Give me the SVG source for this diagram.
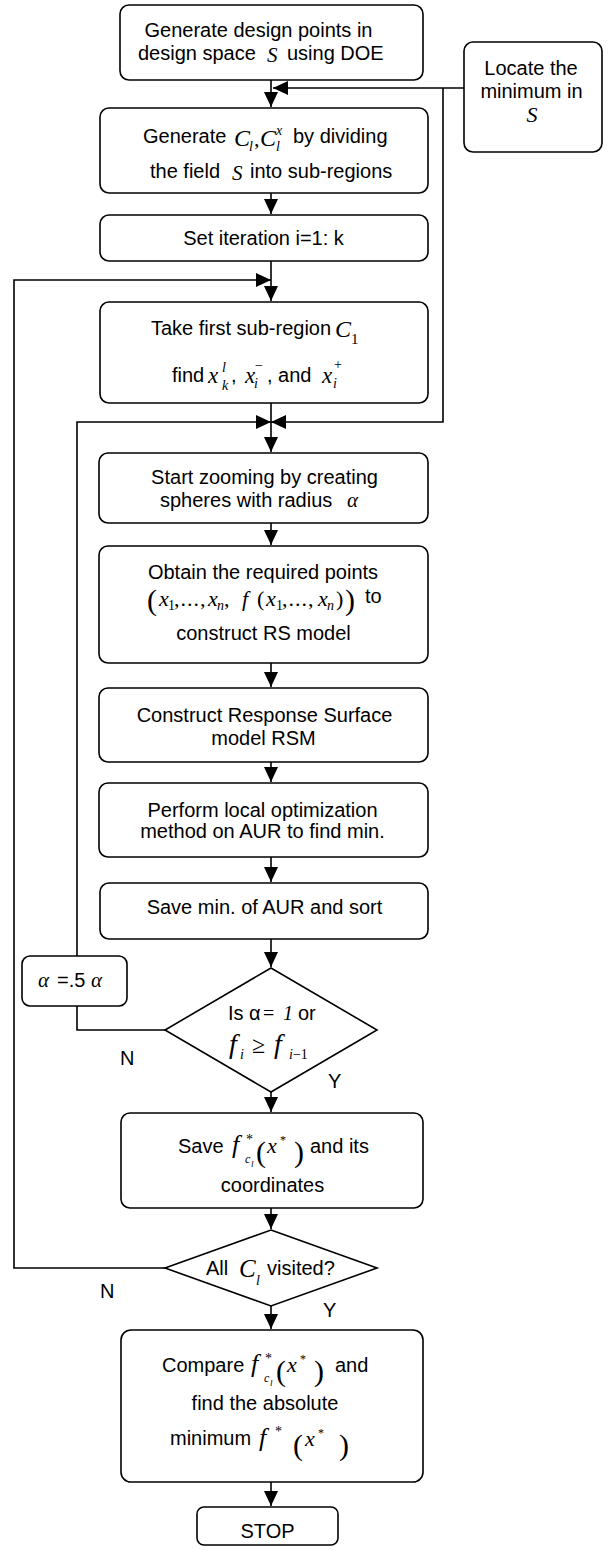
<svg xmlns="http://www.w3.org/2000/svg" width="610" height="1551" viewBox="0 0 610 1551">
<style>
.b{fill:#fff;stroke:#000;stroke-width:1.6}
.ln{fill:none;stroke:#000;stroke-width:1.6}
.t{font-family:"Liberation Sans",Arial,sans-serif;font-size:20px;fill:#000}
.c{text-anchor:middle}
.m{font-family:"Liberation Serif","Times New Roman",serif;font-style:italic;fill:#000}
.r{font-family:"Liberation Serif","Times New Roman",serif;font-style:normal;fill:#000}
</style>
<defs>
<marker id="ah" markerUnits="userSpaceOnUse" markerWidth="16" markerHeight="16" refX="15" refY="7" orient="auto"><path d="M0,0L15,7L0,14z" fill="#000"/></marker>
</defs>
<rect width="610" height="1551" fill="#fff"/>
<g id="connectors">
<line class="ln" x1="271" y1="80" x2="271" y2="107" marker-end="url(#ah)"/>
<polyline class="ln" points="464,88 273,88" marker-end="url(#ah)"/>
<polyline class="ln" points="443,88 443,422 271,422" marker-end="url(#ah)"/>
<line class="ln" x1="271" y1="193" x2="271" y2="214" marker-end="url(#ah)"/>
<line class="ln" x1="271" y1="261" x2="271" y2="301" marker-end="url(#ah)"/>
<polyline class="ln" points="165,1268 14,1268 14,280 271,280" marker-end="url(#ah)"/>
<line class="ln" x1="271" y1="403" x2="271" y2="452" marker-end="url(#ah)"/>
<polyline class="ln" points="165,1030 77,1030 77,1006"/>
<polyline class="ln" points="77,956 77,422 271,422" marker-end="url(#ah)"/>
<line class="ln" x1="271" y1="523" x2="271" y2="545" marker-end="url(#ah)"/>
<line class="ln" x1="271" y1="663" x2="271" y2="687" marker-end="url(#ah)"/>
<line class="ln" x1="271" y1="762" x2="271" y2="782" marker-end="url(#ah)"/>
<line class="ln" x1="271" y1="857" x2="271" y2="882" marker-end="url(#ah)"/>
<line class="ln" x1="271" y1="939" x2="271" y2="967" marker-end="url(#ah)"/>
<line class="ln" x1="271" y1="1092" x2="271" y2="1112" marker-end="url(#ah)"/>
<line class="ln" x1="271" y1="1208" x2="271" y2="1229" marker-end="url(#ah)"/>
<line class="ln" x1="271" y1="1306" x2="271" y2="1329" marker-end="url(#ah)"/>
<line class="ln" x1="271" y1="1482" x2="271" y2="1506" marker-end="url(#ah)"/>
<text class="t" x="120" y="1065">N</text>
<text class="t" x="328" y="1088">Y</text>
<text class="t" x="100" y="1298">N</text>
<text class="t" x="323" y="1317">Y</text>
</g>
<g id="n1">
<rect class="b" x="120" y="5" width="303" height="75" rx="9"/>
<text class="t c" x="258.5" y="37">Generate design points in</text>
<text class="t" x="138" y="60">design space</text>
<text class="m" x="267" y="62" font-size="21">S</text>
<text class="t" x="287" y="60">using DOE</text>
</g>
<g id="n2">
<rect class="b" x="464" y="42" width="138" height="110" rx="9"/>
<text class="t c" x="531" y="75">Locate the</text>
<text class="t c" x="531.5" y="98">minimum in</text>
<text class="m c" x="532" y="122" font-size="22">S</text>
</g>
<g id="n3">
<rect class="b" x="100" y="108" width="328" height="85" rx="9"/>
<text class="t" x="143" y="143">Generate</text>
<text class="m" x="234" y="146" font-size="24">C</text>
<text class="m" x="249" y="151" font-size="14">l</text>
<text class="r" x="254" y="146" font-size="22">,</text>
<text class="m" x="260" y="146" font-size="24">C</text>
<text class="m" x="276" y="135" font-size="14">x</text>
<text class="m" x="276" y="151" font-size="14">l</text>
<text class="t" x="293" y="143">by dividing</text>
<text class="t" x="150" y="178">the field</text>
<text class="m" x="232" y="180" font-size="21">S</text>
<text class="t" x="250" y="178">into sub-regions</text>
</g>
<g id="n4">
<rect class="b" x="100" y="215" width="328" height="46" rx="9"/>
<text class="t c" x="263.5" y="245">Set iteration i=1: k</text>
</g>
<g id="n5">
<rect class="b" x="100" y="302" width="328" height="101" rx="9"/>
<text class="t" x="151" y="335">Take first sub-region</text>
<text class="m" x="335" y="337" font-size="24">C</text>
<text class="r" x="351" y="344" font-size="15">1</text>
<text class="t" x="172" y="382">find</text>
<text class="m" x="208" y="383" font-size="23">x</text>
<text class="m" x="222" y="372" font-size="14">l</text>
<text class="m" x="222" y="390" font-size="14">k</text>
<text class="t" x="231" y="382">,</text>
<text class="m" x="245" y="383" font-size="23">x</text>
<text class="r" x="255" y="370" font-size="14">−</text>
<text class="m" x="254" y="388" font-size="14">i</text>
<text class="t" x="267" y="382">, and</text>
<text class="m" x="322" y="383" font-size="23">x</text>
<text class="r" x="334" y="369" font-size="14">+</text>
<text class="m" x="333" y="388" font-size="14">i</text>
</g>
<g id="n6">
<rect class="b" x="99" y="453" width="329" height="70" rx="9"/>
<text class="t c" x="264.5" y="484">Start zooming by creating</text>
<text class="t" x="160" y="507">spheres with radius</text>
<text class="m" x="347" y="507" font-size="21">α</text>
</g>
<g id="n7">
<rect class="b" x="99" y="546" width="329" height="117" rx="9"/>
<text class="t c" x="263" y="579">Obtain the required points</text>
<text class="r" x="147" y="610" font-size="30">(</text>
<text class="m" x="159" y="606" font-size="22">x</text>
<text class="r" x="168" y="610" font-size="14">1</text>
<text class="r" x="174" y="606" font-size="22" letter-spacing="1">,...,</text>
<text class="m" x="208" y="606" font-size="22">x</text>
<text class="m" x="217" y="610" font-size="14">n</text>
<text class="r" x="224" y="606" font-size="22">,</text>
<text class="m" x="242" y="606" font-size="22">f</text>
<text class="r" x="257" y="606" font-size="22">(</text>
<text class="m" x="266" y="606" font-size="22">x</text>
<text class="r" x="276" y="610" font-size="14">1</text>
<text class="r" x="282" y="606" font-size="22" letter-spacing="1">,...,</text>
<text class="m" x="318" y="606" font-size="22">x</text>
<text class="m" x="327" y="610" font-size="14">n</text>
<text class="r" x="336" y="606" font-size="22">)</text>
<text class="r" x="345" y="610" font-size="30">)</text>
<text class="t" x="365" y="603">to</text>
<text class="t c" x="263.5" y="640">construct RS model</text>
</g>
<g id="n8">
<rect class="b" x="99" y="688" width="329" height="74" rx="9"/>
<text class="t c" x="264.5" y="722">Construct Response Surface</text>
<text class="t c" x="263.5" y="745">model RSM</text>
</g>
<g id="n9">
<rect class="b" x="99" y="783" width="329" height="74" rx="9"/>
<text class="t c" x="262.5" y="817">Perform local optimization</text>
<text class="t c" x="262.5" y="838">method on AUR to find min.</text>
</g>
<g id="n10">
<rect class="b" x="100" y="883" width="328" height="56" rx="9"/>
<text class="t c" x="264.5" y="914">Save min. of AUR and sort</text>
</g>
<g id="n11">
<rect class="b" x="22" y="956" width="105" height="50" rx="8"/>
<text class="m" x="38" y="987" font-size="21">α</text>
<text class="t" x="57" y="987">=.5</text>
<text class="m" x="91" y="987" font-size="21">α</text>
</g>
<g id="d1">
<polygon class="b" points="271,968 377,1030 271,1092 165,1030"/>
<text class="t" x="228" y="1020">Is α</text>
<text class="r" x="263" y="1020" font-size="20">=</text>
<text class="m" x="283" y="1020" font-size="20">1</text>
<text class="t" x="298" y="1020">or</text>
<text class="m" x="229" y="1053" font-size="28">f</text>
<text class="m" x="240" y="1059" font-size="14">i</text>
<text class="r" x="252" y="1053" font-size="24">≥</text>
<text class="m" x="274" y="1053" font-size="28">f</text>
<text class="m" x="289" y="1059" font-size="14">i<tspan class="r">−1</tspan></text>
</g>
<g id="n12">
<rect class="b" x="121" y="1113" width="302" height="95" rx="9"/>
<text class="t" x="178" y="1153">Save</text>
<text class="m" x="232" y="1153" font-size="26">f</text>
<text class="r" x="246" y="1144" font-size="14">*</text>
<text class="m" x="245" y="1163" font-size="12">c</text>
<text class="m" x="251" y="1167" font-size="9">l</text>
<text class="r" x="256" y="1162" font-size="30">(</text>
<text class="m" x="267" y="1153" font-size="22">x</text>
<text class="r" x="280" y="1144" font-size="12">*</text>
<text class="r" x="294" y="1162" font-size="30">)</text>
<text class="t" x="310" y="1153">and its</text>
<text class="t c" x="272.5" y="1192">coordinates</text>
</g>
<g id="d2">
<polygon class="b" points="271,1230 377,1268 271,1306 165,1268"/>
<text class="t" x="206" y="1275">All</text>
<text class="m" x="239" y="1277" font-size="25">C</text>
<text class="m" x="256" y="1285" font-size="14">l</text>
<text class="t" x="267" y="1275">visited?</text>
</g>
<g id="n13">
<rect class="b" x="121" y="1330" width="302" height="152" rx="10"/>
<text class="t" x="162" y="1372">Compare</text>
<text class="m" x="251" y="1372" font-size="26">f</text>
<text class="r" x="265" y="1363" font-size="14">*</text>
<text class="m" x="264" y="1382" font-size="12">c</text>
<text class="m" x="270" y="1386" font-size="9">l</text>
<text class="r" x="276" y="1381" font-size="30">(</text>
<text class="m" x="287" y="1372" font-size="22">x</text>
<text class="r" x="300" y="1363" font-size="12">*</text>
<text class="r" x="314" y="1381" font-size="30">)</text>
<text class="t" x="335" y="1372">and</text>
<text class="t c" x="265" y="1410">find the absolute</text>
<text class="t" x="170" y="1445">minimum</text>
<text class="m" x="259" y="1446" font-size="26">f</text>
<text class="r" x="275" y="1436" font-size="14">*</text>
<text class="r" x="293" y="1455" font-size="30">(</text>
<text class="m" x="305" y="1446" font-size="22">x</text>
<text class="r" x="318" y="1437" font-size="12">*</text>
<text class="r" x="339" y="1455" font-size="30">)</text>
</g>
<g id="n14">
<rect class="b" x="197" y="1507" width="141" height="38" rx="7"/>
<text class="t c" x="267.5" y="1538">STOP</text>
</g>
</svg>
